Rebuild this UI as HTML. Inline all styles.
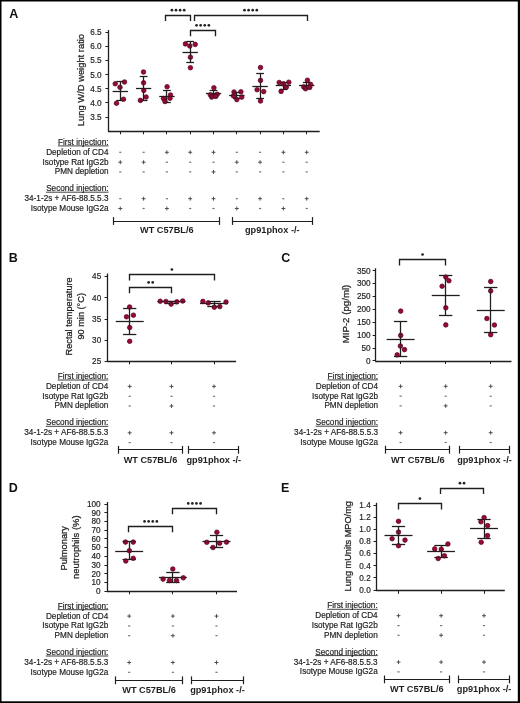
<!DOCTYPE html>
<html><head><meta charset="utf-8"><title>Figure</title>
<style>
html,body{margin:0;padding:0;background:#fff;}
body{width:520px;height:703px;overflow:hidden;}
svg{display:block;font-family:"Liberation Sans", sans-serif;filter:blur(0.35px);}
</style></head><body>
<svg width="520" height="703" viewBox="0 0 520 703">
<rect width="520" height="703" fill="#fff"/>
<text x="9.2" y="17.7" font-size="12.5" text-anchor="start" font-weight="bold" fill="#111">A</text>
<line x1="108.5" y1="30.0" x2="108.5" y2="131.3" stroke="#1e1e1e" stroke-width="1.3"/>
<line x1="105.4" y1="32.5" x2="108.6" y2="32.5" stroke="#1e1e1e" stroke-width="1.0"/>
<text x="101.6" y="35.2" font-size="8.2" text-anchor="end" fill="#1e1e1e" stroke="#1e1e1e" stroke-width="0.18">6.5</text>
<line x1="105.4" y1="46.5" x2="108.6" y2="46.5" stroke="#1e1e1e" stroke-width="1.0"/>
<text x="101.6" y="49.3" font-size="8.2" text-anchor="end" fill="#1e1e1e" stroke="#1e1e1e" stroke-width="0.18">6.0</text>
<line x1="105.4" y1="60.5" x2="108.6" y2="60.5" stroke="#1e1e1e" stroke-width="1.0"/>
<text x="101.6" y="63.4" font-size="8.2" text-anchor="end" fill="#1e1e1e" stroke="#1e1e1e" stroke-width="0.18">5.5</text>
<line x1="105.4" y1="74.5" x2="108.6" y2="74.5" stroke="#1e1e1e" stroke-width="1.0"/>
<text x="101.6" y="77.5" font-size="8.2" text-anchor="end" fill="#1e1e1e" stroke="#1e1e1e" stroke-width="0.18">5.0</text>
<line x1="105.4" y1="88.5" x2="108.6" y2="88.5" stroke="#1e1e1e" stroke-width="1.0"/>
<text x="101.6" y="91.6" font-size="8.2" text-anchor="end" fill="#1e1e1e" stroke="#1e1e1e" stroke-width="0.18">4.5</text>
<line x1="105.4" y1="102.5" x2="108.6" y2="102.5" stroke="#1e1e1e" stroke-width="1.0"/>
<text x="101.6" y="105.7" font-size="8.2" text-anchor="end" fill="#1e1e1e" stroke="#1e1e1e" stroke-width="0.18">4.0</text>
<line x1="105.4" y1="117.5" x2="108.6" y2="117.5" stroke="#1e1e1e" stroke-width="1.0"/>
<text x="101.6" y="119.8" font-size="8.2" text-anchor="end" fill="#1e1e1e" stroke="#1e1e1e" stroke-width="0.18">3.5</text>
<line x1="107.95" y1="131.5" x2="319.7" y2="131.5" stroke="#1e1e1e" stroke-width="1.3"/>
<line x1="120.5" y1="131.3" x2="120.5" y2="134.3" stroke="#1e1e1e" stroke-width="1.0"/>
<line x1="143.5" y1="131.3" x2="143.5" y2="134.3" stroke="#1e1e1e" stroke-width="1.0"/>
<line x1="166.5" y1="131.3" x2="166.5" y2="134.3" stroke="#1e1e1e" stroke-width="1.0"/>
<line x1="190.5" y1="131.3" x2="190.5" y2="134.3" stroke="#1e1e1e" stroke-width="1.0"/>
<line x1="213.5" y1="131.3" x2="213.5" y2="134.3" stroke="#1e1e1e" stroke-width="1.0"/>
<line x1="236.5" y1="131.3" x2="236.5" y2="134.3" stroke="#1e1e1e" stroke-width="1.0"/>
<line x1="260.5" y1="131.3" x2="260.5" y2="134.3" stroke="#1e1e1e" stroke-width="1.0"/>
<line x1="283.5" y1="131.3" x2="283.5" y2="134.3" stroke="#1e1e1e" stroke-width="1.0"/>
<line x1="306.5" y1="131.3" x2="306.5" y2="134.3" stroke="#1e1e1e" stroke-width="1.0"/>
<text transform="translate(83.6,80.05) rotate(-90)" font-size="9.4" text-anchor="middle" fill="#1e1e1e" stroke="#1e1e1e" stroke-width="0.25">Lung W/D weight ratio</text>
<path d="M165.5 21.1V15.5H190.5V21.1" fill="none" stroke="#1e1e1e" stroke-width="1.35"/>
<circle cx="171.90" cy="10.2" r="1.35" fill="#222"/>
<circle cx="176.00" cy="10.2" r="1.35" fill="#222"/>
<circle cx="180.10" cy="10.2" r="1.35" fill="#222"/>
<circle cx="184.20" cy="10.2" r="1.35" fill="#222"/>
<path d="M194.5 21.1V15.5H307.5V21.1" fill="none" stroke="#1e1e1e" stroke-width="1.35"/>
<circle cx="244.50" cy="10.2" r="1.35" fill="#222"/>
<circle cx="248.60" cy="10.2" r="1.35" fill="#222"/>
<circle cx="252.70" cy="10.2" r="1.35" fill="#222"/>
<circle cx="256.80" cy="10.2" r="1.35" fill="#222"/>
<path d="M190.5 36.2V30.5H215.5V36.2" fill="none" stroke="#1e1e1e" stroke-width="1.35"/>
<circle cx="196.55" cy="25.3" r="1.35" fill="#222"/>
<circle cx="200.65" cy="25.3" r="1.35" fill="#222"/>
<circle cx="204.75" cy="25.3" r="1.35" fill="#222"/>
<circle cx="208.85" cy="25.3" r="1.35" fill="#222"/>
<line x1="120.5" y1="81.5" x2="120.5" y2="100.5" stroke="#1e1e1e" stroke-width="1.2"/>
<line x1="116.5" y1="81.5" x2="124.1" y2="81.5" stroke="#1e1e1e" stroke-width="1.2"/>
<line x1="116.5" y1="100.5" x2="124.1" y2="100.5" stroke="#1e1e1e" stroke-width="1.2"/>
<line x1="112.7" y1="91.5" x2="127.9" y2="91.5" stroke="#1e1e1e" stroke-width="1.2"/>
<circle cx="115.25" cy="83.75" r="2.3" fill="#980a34" stroke="#55001a" stroke-width="0.7"/>
<circle cx="124.5" cy="82" r="2.3" fill="#980a34" stroke="#55001a" stroke-width="0.7"/>
<circle cx="120" cy="87.25" r="2.3" fill="#980a34" stroke="#55001a" stroke-width="0.7"/>
<circle cx="123.5" cy="99.25" r="2.3" fill="#980a34" stroke="#55001a" stroke-width="0.7"/>
<circle cx="116.5" cy="103.25" r="2.3" fill="#980a34" stroke="#55001a" stroke-width="0.7"/>
<g opacity="0.45">
<line x1="120.5" y1="81.5" x2="120.5" y2="100.5" stroke="#1e1e1e" stroke-width="1.2"/>
<line x1="116.5" y1="81.5" x2="124.1" y2="81.5" stroke="#1e1e1e" stroke-width="1.2"/>
<line x1="116.5" y1="100.5" x2="124.1" y2="100.5" stroke="#1e1e1e" stroke-width="1.2"/>
<line x1="112.7" y1="91.5" x2="127.9" y2="91.5" stroke="#1e1e1e" stroke-width="1.2"/>
</g>
<line x1="143.5" y1="76.8" x2="143.5" y2="100.2" stroke="#1e1e1e" stroke-width="1.2"/>
<line x1="139.8" y1="76.5" x2="147.4" y2="76.5" stroke="#1e1e1e" stroke-width="1.2"/>
<line x1="139.8" y1="100.5" x2="147.4" y2="100.5" stroke="#1e1e1e" stroke-width="1.2"/>
<line x1="136.0" y1="88.5" x2="151.2" y2="88.5" stroke="#1e1e1e" stroke-width="1.2"/>
<circle cx="143.5" cy="72" r="2.3" fill="#980a34" stroke="#55001a" stroke-width="0.7"/>
<circle cx="143.6" cy="82.8" r="2.3" fill="#980a34" stroke="#55001a" stroke-width="0.7"/>
<circle cx="143.8" cy="90.5" r="2.3" fill="#980a34" stroke="#55001a" stroke-width="0.7"/>
<circle cx="146.1" cy="97" r="2.3" fill="#980a34" stroke="#55001a" stroke-width="0.7"/>
<circle cx="140.4" cy="100.4" r="2.3" fill="#980a34" stroke="#55001a" stroke-width="0.7"/>
<g opacity="0.45">
<line x1="143.5" y1="76.8" x2="143.5" y2="100.2" stroke="#1e1e1e" stroke-width="1.2"/>
<line x1="139.8" y1="76.5" x2="147.4" y2="76.5" stroke="#1e1e1e" stroke-width="1.2"/>
<line x1="139.8" y1="100.5" x2="147.4" y2="100.5" stroke="#1e1e1e" stroke-width="1.2"/>
<line x1="136.0" y1="88.5" x2="151.2" y2="88.5" stroke="#1e1e1e" stroke-width="1.2"/>
</g>
<line x1="166.5" y1="90.25" x2="166.5" y2="102" stroke="#1e1e1e" stroke-width="1.2"/>
<line x1="163.1" y1="90.5" x2="170.7" y2="90.5" stroke="#1e1e1e" stroke-width="1.2"/>
<line x1="163.1" y1="102.5" x2="170.7" y2="102.5" stroke="#1e1e1e" stroke-width="1.2"/>
<line x1="159.3" y1="96.5" x2="174.5" y2="96.5" stroke="#1e1e1e" stroke-width="1.2"/>
<circle cx="167.1" cy="86.75" r="2.3" fill="#980a34" stroke="#55001a" stroke-width="0.7"/>
<circle cx="163.5" cy="98.5" r="2.3" fill="#980a34" stroke="#55001a" stroke-width="0.7"/>
<circle cx="170.5" cy="95" r="2.3" fill="#980a34" stroke="#55001a" stroke-width="0.7"/>
<circle cx="165" cy="101.5" r="2.3" fill="#980a34" stroke="#55001a" stroke-width="0.7"/>
<circle cx="170" cy="98.3" r="2.3" fill="#980a34" stroke="#55001a" stroke-width="0.7"/>
<g opacity="0.45">
<line x1="166.5" y1="90.25" x2="166.5" y2="102" stroke="#1e1e1e" stroke-width="1.2"/>
<line x1="163.1" y1="90.5" x2="170.7" y2="90.5" stroke="#1e1e1e" stroke-width="1.2"/>
<line x1="163.1" y1="102.5" x2="170.7" y2="102.5" stroke="#1e1e1e" stroke-width="1.2"/>
<line x1="159.3" y1="96.5" x2="174.5" y2="96.5" stroke="#1e1e1e" stroke-width="1.2"/>
</g>
<line x1="190.5" y1="41.1" x2="190.5" y2="62.4" stroke="#1e1e1e" stroke-width="1.2"/>
<line x1="186.4" y1="41.5" x2="194.0" y2="41.5" stroke="#1e1e1e" stroke-width="1.2"/>
<line x1="186.4" y1="62.5" x2="194.0" y2="62.5" stroke="#1e1e1e" stroke-width="1.2"/>
<line x1="182.6" y1="52.5" x2="197.8" y2="52.5" stroke="#1e1e1e" stroke-width="1.2"/>
<circle cx="185.4" cy="43.9" r="2.3" fill="#980a34" stroke="#55001a" stroke-width="0.7"/>
<circle cx="189.8" cy="46" r="2.3" fill="#980a34" stroke="#55001a" stroke-width="0.7"/>
<circle cx="195.2" cy="44.4" r="2.3" fill="#980a34" stroke="#55001a" stroke-width="0.7"/>
<circle cx="190.4" cy="57.2" r="2.3" fill="#980a34" stroke="#55001a" stroke-width="0.7"/>
<circle cx="190.4" cy="67.7" r="2.3" fill="#980a34" stroke="#55001a" stroke-width="0.7"/>
<g opacity="0.45">
<line x1="190.5" y1="41.1" x2="190.5" y2="62.4" stroke="#1e1e1e" stroke-width="1.2"/>
<line x1="186.4" y1="41.5" x2="194.0" y2="41.5" stroke="#1e1e1e" stroke-width="1.2"/>
<line x1="186.4" y1="62.5" x2="194.0" y2="62.5" stroke="#1e1e1e" stroke-width="1.2"/>
<line x1="182.6" y1="52.5" x2="197.8" y2="52.5" stroke="#1e1e1e" stroke-width="1.2"/>
</g>
<line x1="213.5" y1="90.4" x2="213.5" y2="97.5" stroke="#1e1e1e" stroke-width="1.2"/>
<line x1="209.7" y1="90.5" x2="217.3" y2="90.5" stroke="#1e1e1e" stroke-width="1.2"/>
<line x1="209.7" y1="97.5" x2="217.3" y2="97.5" stroke="#1e1e1e" stroke-width="1.2"/>
<line x1="205.9" y1="93.5" x2="221.1" y2="93.5" stroke="#1e1e1e" stroke-width="1.2"/>
<circle cx="213.9" cy="87.8" r="2.3" fill="#980a34" stroke="#55001a" stroke-width="0.7"/>
<circle cx="210.3" cy="94.8" r="2.3" fill="#980a34" stroke="#55001a" stroke-width="0.7"/>
<circle cx="217.2" cy="94.3" r="2.3" fill="#980a34" stroke="#55001a" stroke-width="0.7"/>
<circle cx="211.7" cy="97.1" r="2.3" fill="#980a34" stroke="#55001a" stroke-width="0.7"/>
<circle cx="215.8" cy="96.4" r="2.3" fill="#980a34" stroke="#55001a" stroke-width="0.7"/>
<g opacity="0.45">
<line x1="213.5" y1="90.4" x2="213.5" y2="97.5" stroke="#1e1e1e" stroke-width="1.2"/>
<line x1="209.7" y1="90.5" x2="217.3" y2="90.5" stroke="#1e1e1e" stroke-width="1.2"/>
<line x1="209.7" y1="97.5" x2="217.3" y2="97.5" stroke="#1e1e1e" stroke-width="1.2"/>
<line x1="205.9" y1="93.5" x2="221.1" y2="93.5" stroke="#1e1e1e" stroke-width="1.2"/>
</g>
<line x1="236.5" y1="92.3" x2="236.5" y2="98.6" stroke="#1e1e1e" stroke-width="1.2"/>
<line x1="233.0" y1="92.5" x2="240.6" y2="92.5" stroke="#1e1e1e" stroke-width="1.2"/>
<line x1="233.0" y1="98.5" x2="240.6" y2="98.5" stroke="#1e1e1e" stroke-width="1.2"/>
<line x1="229.2" y1="95.5" x2="244.4" y2="95.5" stroke="#1e1e1e" stroke-width="1.2"/>
<circle cx="234" cy="92" r="2.3" fill="#980a34" stroke="#55001a" stroke-width="0.7"/>
<circle cx="240.9" cy="91.8" r="2.3" fill="#980a34" stroke="#55001a" stroke-width="0.7"/>
<circle cx="233.5" cy="95.9" r="2.3" fill="#980a34" stroke="#55001a" stroke-width="0.7"/>
<circle cx="241.8" cy="97.1" r="2.3" fill="#980a34" stroke="#55001a" stroke-width="0.7"/>
<circle cx="236.8" cy="99.6" r="2.3" fill="#980a34" stroke="#55001a" stroke-width="0.7"/>
<g opacity="0.45">
<line x1="236.5" y1="92.3" x2="236.5" y2="98.6" stroke="#1e1e1e" stroke-width="1.2"/>
<line x1="233.0" y1="92.5" x2="240.6" y2="92.5" stroke="#1e1e1e" stroke-width="1.2"/>
<line x1="233.0" y1="98.5" x2="240.6" y2="98.5" stroke="#1e1e1e" stroke-width="1.2"/>
<line x1="229.2" y1="95.5" x2="244.4" y2="95.5" stroke="#1e1e1e" stroke-width="1.2"/>
</g>
<line x1="260.5" y1="73.3" x2="260.5" y2="98.2" stroke="#1e1e1e" stroke-width="1.2"/>
<line x1="256.3" y1="73.5" x2="263.9" y2="73.5" stroke="#1e1e1e" stroke-width="1.2"/>
<line x1="256.3" y1="98.5" x2="263.9" y2="98.5" stroke="#1e1e1e" stroke-width="1.2"/>
<line x1="252.5" y1="86.5" x2="267.7" y2="86.5" stroke="#1e1e1e" stroke-width="1.2"/>
<circle cx="260.5" cy="67.5" r="2.3" fill="#980a34" stroke="#55001a" stroke-width="0.7"/>
<circle cx="260.5" cy="80.4" r="2.3" fill="#980a34" stroke="#55001a" stroke-width="0.7"/>
<circle cx="257.1" cy="89.7" r="2.3" fill="#980a34" stroke="#55001a" stroke-width="0.7"/>
<circle cx="263.7" cy="91.6" r="2.3" fill="#980a34" stroke="#55001a" stroke-width="0.7"/>
<circle cx="260.5" cy="101" r="2.3" fill="#980a34" stroke="#55001a" stroke-width="0.7"/>
<g opacity="0.45">
<line x1="260.5" y1="73.3" x2="260.5" y2="98.2" stroke="#1e1e1e" stroke-width="1.2"/>
<line x1="256.3" y1="73.5" x2="263.9" y2="73.5" stroke="#1e1e1e" stroke-width="1.2"/>
<line x1="256.3" y1="98.5" x2="263.9" y2="98.5" stroke="#1e1e1e" stroke-width="1.2"/>
<line x1="252.5" y1="86.5" x2="267.7" y2="86.5" stroke="#1e1e1e" stroke-width="1.2"/>
</g>
<line x1="283.5" y1="82.3" x2="283.5" y2="89.1" stroke="#1e1e1e" stroke-width="1.2"/>
<line x1="279.6" y1="82.5" x2="287.2" y2="82.5" stroke="#1e1e1e" stroke-width="1.2"/>
<line x1="279.6" y1="89.5" x2="287.2" y2="89.5" stroke="#1e1e1e" stroke-width="1.2"/>
<line x1="275.8" y1="85.5" x2="291.0" y2="85.5" stroke="#1e1e1e" stroke-width="1.2"/>
<circle cx="279.2" cy="82.5" r="2.3" fill="#980a34" stroke="#55001a" stroke-width="0.7"/>
<circle cx="283.5" cy="83.8" r="2.3" fill="#980a34" stroke="#55001a" stroke-width="0.7"/>
<circle cx="288.8" cy="82.2" r="2.3" fill="#980a34" stroke="#55001a" stroke-width="0.7"/>
<circle cx="286.3" cy="87.2" r="2.3" fill="#980a34" stroke="#55001a" stroke-width="0.7"/>
<circle cx="281.1" cy="91.4" r="2.3" fill="#980a34" stroke="#55001a" stroke-width="0.7"/>
<g opacity="0.45">
<line x1="283.5" y1="82.3" x2="283.5" y2="89.1" stroke="#1e1e1e" stroke-width="1.2"/>
<line x1="279.6" y1="82.5" x2="287.2" y2="82.5" stroke="#1e1e1e" stroke-width="1.2"/>
<line x1="279.6" y1="89.5" x2="287.2" y2="89.5" stroke="#1e1e1e" stroke-width="1.2"/>
<line x1="275.8" y1="85.5" x2="291.0" y2="85.5" stroke="#1e1e1e" stroke-width="1.2"/>
</g>
<line x1="306.5" y1="82.3" x2="306.5" y2="88.7" stroke="#1e1e1e" stroke-width="1.2"/>
<line x1="302.9" y1="82.5" x2="310.5" y2="82.5" stroke="#1e1e1e" stroke-width="1.2"/>
<line x1="302.9" y1="88.5" x2="310.5" y2="88.5" stroke="#1e1e1e" stroke-width="1.2"/>
<line x1="299.1" y1="85.5" x2="314.3" y2="85.5" stroke="#1e1e1e" stroke-width="1.2"/>
<circle cx="307.4" cy="80.2" r="2.3" fill="#980a34" stroke="#55001a" stroke-width="0.7"/>
<circle cx="310.6" cy="84.4" r="2.3" fill="#980a34" stroke="#55001a" stroke-width="0.7"/>
<circle cx="303.7" cy="86.9" r="2.3" fill="#980a34" stroke="#55001a" stroke-width="0.7"/>
<circle cx="305.5" cy="88.8" r="2.3" fill="#980a34" stroke="#55001a" stroke-width="0.7"/>
<circle cx="309.7" cy="87.4" r="2.3" fill="#980a34" stroke="#55001a" stroke-width="0.7"/>
<g opacity="0.45">
<line x1="306.5" y1="82.3" x2="306.5" y2="88.7" stroke="#1e1e1e" stroke-width="1.2"/>
<line x1="302.9" y1="82.5" x2="310.5" y2="82.5" stroke="#1e1e1e" stroke-width="1.2"/>
<line x1="302.9" y1="88.5" x2="310.5" y2="88.5" stroke="#1e1e1e" stroke-width="1.2"/>
<line x1="299.1" y1="85.5" x2="314.3" y2="85.5" stroke="#1e1e1e" stroke-width="1.2"/>
</g>
<text x="108.5" y="144.9" font-size="8.2" text-anchor="end" fill="#1e1e1e" stroke="#1e1e1e" stroke-width="0.18">First injection:</text>
<line x1="57.92" y1="145.90" x2="108.50" y2="145.90" stroke="#1e1e1e" stroke-width="0.85"/>
<text x="108.5" y="191.2" font-size="8.2" text-anchor="end" fill="#1e1e1e" stroke="#1e1e1e" stroke-width="0.18">Second injection:</text>
<line x1="46.05" y1="192.20" x2="108.50" y2="192.20" stroke="#1e1e1e" stroke-width="0.85"/>
<text x="108.5" y="154.7" font-size="8.2" text-anchor="end" fill="#1e1e1e" stroke="#1e1e1e" stroke-width="0.18">Depletion of CD4</text>
<path d="M119.20 152.30H121.40" stroke="#747474" stroke-width="1.2" fill="none"/>
<path d="M142.50 152.30H144.70" stroke="#747474" stroke-width="1.2" fill="none"/>
<path d="M164.95 152.30H168.85M166.90 150.35V154.25" stroke="#474747" stroke-width="0.95" fill="none"/>
<path d="M188.25 152.30H192.15M190.20 150.35V154.25" stroke="#474747" stroke-width="0.95" fill="none"/>
<path d="M211.55 152.30H215.45M213.50 150.35V154.25" stroke="#474747" stroke-width="0.95" fill="none"/>
<path d="M235.70 152.30H237.90" stroke="#747474" stroke-width="1.2" fill="none"/>
<path d="M259.00 152.30H261.20" stroke="#747474" stroke-width="1.2" fill="none"/>
<path d="M281.45 152.30H285.35M283.40 150.35V154.25" stroke="#474747" stroke-width="0.95" fill="none"/>
<path d="M304.75 152.30H308.65M306.70 150.35V154.25" stroke="#474747" stroke-width="0.95" fill="none"/>
<text x="108.5" y="164.6" font-size="8.2" text-anchor="end" fill="#1e1e1e" stroke="#1e1e1e" stroke-width="0.18">Isotype Rat IgG2b</text>
<path d="M118.35 162.20H122.25M120.30 160.25V164.15" stroke="#474747" stroke-width="0.95" fill="none"/>
<path d="M141.65 162.20H145.55M143.60 160.25V164.15" stroke="#474747" stroke-width="0.95" fill="none"/>
<path d="M165.80 162.20H168.00" stroke="#747474" stroke-width="1.2" fill="none"/>
<path d="M189.10 162.20H191.30" stroke="#747474" stroke-width="1.2" fill="none"/>
<path d="M212.40 162.20H214.60" stroke="#747474" stroke-width="1.2" fill="none"/>
<path d="M234.85 162.20H238.75M236.80 160.25V164.15" stroke="#474747" stroke-width="0.95" fill="none"/>
<path d="M258.15 162.20H262.05M260.10 160.25V164.15" stroke="#474747" stroke-width="0.95" fill="none"/>
<path d="M282.30 162.20H284.50" stroke="#747474" stroke-width="1.2" fill="none"/>
<path d="M305.60 162.20H307.80" stroke="#747474" stroke-width="1.2" fill="none"/>
<text x="108.5" y="174.3" font-size="8.2" text-anchor="end" fill="#1e1e1e" stroke="#1e1e1e" stroke-width="0.18">PMN depletion</text>
<path d="M119.20 171.90H121.40" stroke="#747474" stroke-width="1.2" fill="none"/>
<path d="M142.50 171.90H144.70" stroke="#747474" stroke-width="1.2" fill="none"/>
<path d="M165.80 171.90H168.00" stroke="#747474" stroke-width="1.2" fill="none"/>
<path d="M189.10 171.90H191.30" stroke="#747474" stroke-width="1.2" fill="none"/>
<path d="M211.55 171.90H215.45M213.50 169.95V173.85" stroke="#474747" stroke-width="0.95" fill="none"/>
<path d="M235.70 171.90H237.90" stroke="#747474" stroke-width="1.2" fill="none"/>
<path d="M259.00 171.90H261.20" stroke="#747474" stroke-width="1.2" fill="none"/>
<path d="M282.30 171.90H284.50" stroke="#747474" stroke-width="1.2" fill="none"/>
<path d="M305.60 171.90H307.80" stroke="#747474" stroke-width="1.2" fill="none"/>
<text x="108.5" y="201.1" font-size="8.2" text-anchor="end" fill="#1e1e1e" stroke="#1e1e1e" stroke-width="0.18">34-1-2s + AF6-88.5.5.3</text>
<path d="M119.20 198.70H121.40" stroke="#747474" stroke-width="1.2" fill="none"/>
<path d="M141.65 198.70H145.55M143.60 196.75V200.65" stroke="#474747" stroke-width="0.95" fill="none"/>
<path d="M165.80 198.70H168.00" stroke="#747474" stroke-width="1.2" fill="none"/>
<path d="M188.25 198.70H192.15M190.20 196.75V200.65" stroke="#474747" stroke-width="0.95" fill="none"/>
<path d="M211.55 198.70H215.45M213.50 196.75V200.65" stroke="#474747" stroke-width="0.95" fill="none"/>
<path d="M235.70 198.70H237.90" stroke="#747474" stroke-width="1.2" fill="none"/>
<path d="M258.15 198.70H262.05M260.10 196.75V200.65" stroke="#474747" stroke-width="0.95" fill="none"/>
<path d="M282.30 198.70H284.50" stroke="#747474" stroke-width="1.2" fill="none"/>
<path d="M304.75 198.70H308.65M306.70 196.75V200.65" stroke="#474747" stroke-width="0.95" fill="none"/>
<text x="108.5" y="210.9" font-size="8.2" text-anchor="end" fill="#1e1e1e" stroke="#1e1e1e" stroke-width="0.18">Isotype Mouse IgG2a</text>
<path d="M118.35 208.50H122.25M120.30 206.55V210.45" stroke="#474747" stroke-width="0.95" fill="none"/>
<path d="M142.50 208.50H144.70" stroke="#747474" stroke-width="1.2" fill="none"/>
<path d="M164.95 208.50H168.85M166.90 206.55V210.45" stroke="#474747" stroke-width="0.95" fill="none"/>
<path d="M189.10 208.50H191.30" stroke="#747474" stroke-width="1.2" fill="none"/>
<path d="M212.40 208.50H214.60" stroke="#747474" stroke-width="1.2" fill="none"/>
<path d="M234.85 208.50H238.75M236.80 206.55V210.45" stroke="#474747" stroke-width="0.95" fill="none"/>
<path d="M259.00 208.50H261.20" stroke="#747474" stroke-width="1.2" fill="none"/>
<path d="M281.45 208.50H285.35M283.40 206.55V210.45" stroke="#474747" stroke-width="0.95" fill="none"/>
<path d="M305.60 208.50H307.80" stroke="#747474" stroke-width="1.2" fill="none"/>
<line x1="113.8" y1="221.5" x2="219.8" y2="221.5" stroke="#1e1e1e" stroke-width="1.2"/>
<line x1="113.5" y1="217.1" x2="113.5" y2="224.9" stroke="#1e1e1e" stroke-width="1.2"/>
<line x1="219.5" y1="217.1" x2="219.5" y2="224.9" stroke="#1e1e1e" stroke-width="1.2"/>
<text x="166.8" y="233.0" font-size="9.2" text-anchor="middle" font-weight="bold" fill="#1e1e1e">WT C57BL/6</text>
<line x1="232.1" y1="221.5" x2="312.4" y2="221.5" stroke="#1e1e1e" stroke-width="1.2"/>
<line x1="232.5" y1="217.1" x2="232.5" y2="224.9" stroke="#1e1e1e" stroke-width="1.2"/>
<line x1="312.5" y1="217.1" x2="312.5" y2="224.9" stroke="#1e1e1e" stroke-width="1.2"/>
<text x="272.25" y="233.0" font-size="9.2" text-anchor="middle" font-weight="bold" fill="#1e1e1e">gp91phox -/-</text>
<text x="8.8" y="262.4" font-size="12.5" text-anchor="start" font-weight="bold" fill="#111">B</text>
<line x1="107.5" y1="273.5" x2="107.5" y2="361.4" stroke="#1e1e1e" stroke-width="1.3"/>
<line x1="104.6" y1="276.5" x2="107.8" y2="276.5" stroke="#1e1e1e" stroke-width="1.0"/>
<text x="101.2" y="279.4" font-size="8.2" text-anchor="end" fill="#1e1e1e" stroke="#1e1e1e" stroke-width="0.18">45</text>
<line x1="104.6" y1="297.5" x2="107.8" y2="297.5" stroke="#1e1e1e" stroke-width="1.0"/>
<text x="101.2" y="300.6" font-size="8.2" text-anchor="end" fill="#1e1e1e" stroke="#1e1e1e" stroke-width="0.18">40</text>
<line x1="104.6" y1="319.5" x2="107.8" y2="319.5" stroke="#1e1e1e" stroke-width="1.0"/>
<text x="101.2" y="321.8" font-size="8.2" text-anchor="end" fill="#1e1e1e" stroke="#1e1e1e" stroke-width="0.18">35</text>
<line x1="104.6" y1="340.5" x2="107.8" y2="340.5" stroke="#1e1e1e" stroke-width="1.0"/>
<text x="101.2" y="343.0" font-size="8.2" text-anchor="end" fill="#1e1e1e" stroke="#1e1e1e" stroke-width="0.18">30</text>
<line x1="104.6" y1="361.5" x2="107.8" y2="361.5" stroke="#1e1e1e" stroke-width="1.0"/>
<text x="101.2" y="364.2" font-size="8.2" text-anchor="end" fill="#1e1e1e" stroke="#1e1e1e" stroke-width="0.18">25</text>
<line x1="107.15" y1="361.5" x2="236.1" y2="361.5" stroke="#1e1e1e" stroke-width="1.3"/>
<line x1="129.5" y1="361.4" x2="129.5" y2="364.4" stroke="#1e1e1e" stroke-width="1.0"/>
<line x1="171.5" y1="361.4" x2="171.5" y2="364.4" stroke="#1e1e1e" stroke-width="1.0"/>
<line x1="214.5" y1="361.4" x2="214.5" y2="364.4" stroke="#1e1e1e" stroke-width="1.0"/>
<text transform="translate(71.6,316.4) rotate(-90)" font-size="9.2" text-anchor="middle" fill="#1e1e1e" stroke="#1e1e1e" stroke-width="0.25">Rectal temperature</text>
<text transform="translate(83.8,316.3) rotate(-90)" font-size="9.2" text-anchor="middle" fill="#1e1e1e" stroke="#1e1e1e" stroke-width="0.25">90 min (°C)</text>
<path d="M129.5 280.4V274.5H214.5V280.4" fill="none" stroke="#1e1e1e" stroke-width="1.35"/>
<circle cx="171.90" cy="269.5" r="1.35" fill="#222"/>
<path d="M129.5 293.3V287.5H171.5V293.3" fill="none" stroke="#1e1e1e" stroke-width="1.35"/>
<circle cx="148.60" cy="282.4" r="1.35" fill="#222"/>
<circle cx="152.70" cy="282.4" r="1.35" fill="#222"/>
<line x1="129.5" y1="308" x2="129.5" y2="334.5" stroke="#1e1e1e" stroke-width="1.2"/>
<line x1="123.1" y1="308.5" x2="136.3" y2="308.5" stroke="#1e1e1e" stroke-width="1.2"/>
<line x1="123.1" y1="334.5" x2="136.3" y2="334.5" stroke="#1e1e1e" stroke-width="1.2"/>
<line x1="115.8" y1="321.5" x2="143.6" y2="321.5" stroke="#1e1e1e" stroke-width="1.2"/>
<circle cx="129.6" cy="307" r="2.3" fill="#980a34" stroke="#55001a" stroke-width="0.7"/>
<circle cx="126.5" cy="316.8" r="2.3" fill="#980a34" stroke="#55001a" stroke-width="0.7"/>
<circle cx="133.4" cy="315.2" r="2.3" fill="#980a34" stroke="#55001a" stroke-width="0.7"/>
<circle cx="129.7" cy="327.5" r="2.3" fill="#980a34" stroke="#55001a" stroke-width="0.7"/>
<circle cx="129.7" cy="341.3" r="2.3" fill="#980a34" stroke="#55001a" stroke-width="0.7"/>
<g opacity="0.45">
<line x1="129.5" y1="308" x2="129.5" y2="334.5" stroke="#1e1e1e" stroke-width="1.2"/>
<line x1="123.1" y1="308.5" x2="136.3" y2="308.5" stroke="#1e1e1e" stroke-width="1.2"/>
<line x1="123.1" y1="334.5" x2="136.3" y2="334.5" stroke="#1e1e1e" stroke-width="1.2"/>
<line x1="115.8" y1="321.5" x2="143.6" y2="321.5" stroke="#1e1e1e" stroke-width="1.2"/>
</g>
<line x1="171.5" y1="301.0" x2="171.5" y2="303.0" stroke="#1e1e1e" stroke-width="1.2"/>
<line x1="164.9" y1="301.5" x2="178.1" y2="301.5" stroke="#1e1e1e" stroke-width="1.2"/>
<line x1="164.9" y1="303.5" x2="178.1" y2="303.5" stroke="#1e1e1e" stroke-width="1.2"/>
<line x1="157.6" y1="301.5" x2="185.4" y2="301.5" stroke="#1e1e1e" stroke-width="1.2"/>
<circle cx="160.2" cy="301.25" r="2.3" fill="#980a34" stroke="#55001a" stroke-width="0.7"/>
<circle cx="165.9" cy="301.5" r="2.3" fill="#980a34" stroke="#55001a" stroke-width="0.7"/>
<circle cx="171.1" cy="304.1" r="2.3" fill="#980a34" stroke="#55001a" stroke-width="0.7"/>
<circle cx="176.9" cy="301.8" r="2.3" fill="#980a34" stroke="#55001a" stroke-width="0.7"/>
<circle cx="182.7" cy="301" r="2.3" fill="#980a34" stroke="#55001a" stroke-width="0.7"/>
<g opacity="0.45">
<line x1="171.5" y1="301.0" x2="171.5" y2="303.0" stroke="#1e1e1e" stroke-width="1.2"/>
<line x1="164.9" y1="301.5" x2="178.1" y2="301.5" stroke="#1e1e1e" stroke-width="1.2"/>
<line x1="164.9" y1="303.5" x2="178.1" y2="303.5" stroke="#1e1e1e" stroke-width="1.2"/>
<line x1="157.6" y1="301.5" x2="185.4" y2="301.5" stroke="#1e1e1e" stroke-width="1.2"/>
</g>
<line x1="214.5" y1="301.4" x2="214.5" y2="306.3" stroke="#1e1e1e" stroke-width="1.2"/>
<line x1="207.4" y1="301.5" x2="220.6" y2="301.5" stroke="#1e1e1e" stroke-width="1.2"/>
<line x1="207.4" y1="306.5" x2="220.6" y2="306.5" stroke="#1e1e1e" stroke-width="1.2"/>
<line x1="200.1" y1="303.5" x2="227.9" y2="303.5" stroke="#1e1e1e" stroke-width="1.2"/>
<circle cx="202.9" cy="301.4" r="2.3" fill="#980a34" stroke="#55001a" stroke-width="0.7"/>
<circle cx="208.2" cy="302.9" r="2.3" fill="#980a34" stroke="#55001a" stroke-width="0.7"/>
<circle cx="214.3" cy="307.2" r="2.3" fill="#980a34" stroke="#55001a" stroke-width="0.7"/>
<circle cx="219.8" cy="306.6" r="2.3" fill="#980a34" stroke="#55001a" stroke-width="0.7"/>
<circle cx="226" cy="302" r="2.3" fill="#980a34" stroke="#55001a" stroke-width="0.7"/>
<g opacity="0.45">
<line x1="214.5" y1="301.4" x2="214.5" y2="306.3" stroke="#1e1e1e" stroke-width="1.2"/>
<line x1="207.4" y1="301.5" x2="220.6" y2="301.5" stroke="#1e1e1e" stroke-width="1.2"/>
<line x1="207.4" y1="306.5" x2="220.6" y2="306.5" stroke="#1e1e1e" stroke-width="1.2"/>
<line x1="200.1" y1="303.5" x2="227.9" y2="303.5" stroke="#1e1e1e" stroke-width="1.2"/>
</g>
<text x="108.3" y="379.0" font-size="8.2" text-anchor="end" fill="#1e1e1e" stroke="#1e1e1e" stroke-width="0.18">First injection:</text>
<line x1="57.72" y1="380.00" x2="108.30" y2="380.00" stroke="#1e1e1e" stroke-width="0.85"/>
<text x="108.3" y="425.3" font-size="8.2" text-anchor="end" fill="#1e1e1e" stroke="#1e1e1e" stroke-width="0.18">Second injection:</text>
<line x1="45.85" y1="426.30" x2="108.30" y2="426.30" stroke="#1e1e1e" stroke-width="0.85"/>
<text x="108.3" y="388.8" font-size="8.2" text-anchor="end" fill="#1e1e1e" stroke="#1e1e1e" stroke-width="0.18">Depletion of CD4</text>
<path d="M127.75 386.40H131.65M129.70 384.45V388.35" stroke="#474747" stroke-width="0.95" fill="none"/>
<path d="M169.55 386.40H173.45M171.50 384.45V388.35" stroke="#474747" stroke-width="0.95" fill="none"/>
<path d="M212.05 386.40H215.95M214.00 384.45V388.35" stroke="#474747" stroke-width="0.95" fill="none"/>
<text x="108.3" y="398.7" font-size="8.2" text-anchor="end" fill="#1e1e1e" stroke="#1e1e1e" stroke-width="0.18">Isotype Rat IgG2b</text>
<path d="M128.60 396.30H130.80" stroke="#747474" stroke-width="1.2" fill="none"/>
<path d="M170.40 396.30H172.60" stroke="#747474" stroke-width="1.2" fill="none"/>
<path d="M212.90 396.30H215.10" stroke="#747474" stroke-width="1.2" fill="none"/>
<text x="108.3" y="408.4" font-size="8.2" text-anchor="end" fill="#1e1e1e" stroke="#1e1e1e" stroke-width="0.18">PMN depletion</text>
<path d="M128.60 406.00H130.80" stroke="#747474" stroke-width="1.2" fill="none"/>
<path d="M169.55 406.00H173.45M171.50 404.05V407.95" stroke="#474747" stroke-width="0.95" fill="none"/>
<path d="M212.90 406.00H215.10" stroke="#747474" stroke-width="1.2" fill="none"/>
<text x="108.3" y="435.2" font-size="8.2" text-anchor="end" fill="#1e1e1e" stroke="#1e1e1e" stroke-width="0.18">34-1-2s + AF6-88.5.5.3</text>
<path d="M127.75 432.80H131.65M129.70 430.85V434.75" stroke="#474747" stroke-width="0.95" fill="none"/>
<path d="M169.55 432.80H173.45M171.50 430.85V434.75" stroke="#474747" stroke-width="0.95" fill="none"/>
<path d="M212.05 432.80H215.95M214.00 430.85V434.75" stroke="#474747" stroke-width="0.95" fill="none"/>
<text x="108.3" y="445.0" font-size="8.2" text-anchor="end" fill="#1e1e1e" stroke="#1e1e1e" stroke-width="0.18">Isotype Mouse IgG2a</text>
<path d="M128.60 442.60H130.80" stroke="#747474" stroke-width="1.2" fill="none"/>
<path d="M170.40 442.60H172.60" stroke="#747474" stroke-width="1.2" fill="none"/>
<path d="M212.90 442.60H215.10" stroke="#747474" stroke-width="1.2" fill="none"/>
<line x1="118.5" y1="449.5" x2="182.4" y2="449.5" stroke="#1e1e1e" stroke-width="1.2"/>
<line x1="118.5" y1="445.9" x2="118.5" y2="453.7" stroke="#1e1e1e" stroke-width="1.2"/>
<line x1="182.5" y1="445.9" x2="182.5" y2="453.7" stroke="#1e1e1e" stroke-width="1.2"/>
<text x="150.45" y="462.8" font-size="9.2" text-anchor="middle" font-weight="bold" fill="#1e1e1e">WT C57BL/6</text>
<line x1="188.9" y1="449.5" x2="238.7" y2="449.5" stroke="#1e1e1e" stroke-width="1.2"/>
<line x1="188.5" y1="445.9" x2="188.5" y2="453.7" stroke="#1e1e1e" stroke-width="1.2"/>
<line x1="238.5" y1="445.9" x2="238.5" y2="453.7" stroke="#1e1e1e" stroke-width="1.2"/>
<text x="213.8" y="462.8" font-size="9.2" text-anchor="middle" font-weight="bold" fill="#1e1e1e">gp91phox -/-</text>
<text x="281.3" y="262.1" font-size="12.5" text-anchor="start" font-weight="bold" fill="#111">C</text>
<line x1="375.5" y1="268.3" x2="375.5" y2="361.0" stroke="#1e1e1e" stroke-width="1.3"/>
<line x1="372.6" y1="270.5" x2="375.8" y2="270.5" stroke="#1e1e1e" stroke-width="1.0"/>
<text x="370.6" y="273.61" font-size="8.2" text-anchor="end" fill="#1e1e1e" stroke="#1e1e1e" stroke-width="0.18">350</text>
<line x1="372.6" y1="283.5" x2="375.8" y2="283.5" stroke="#1e1e1e" stroke-width="1.0"/>
<text x="370.6" y="286.48" font-size="8.2" text-anchor="end" fill="#1e1e1e" stroke="#1e1e1e" stroke-width="0.18">300</text>
<line x1="372.6" y1="296.5" x2="375.8" y2="296.5" stroke="#1e1e1e" stroke-width="1.0"/>
<text x="370.6" y="299.35" font-size="8.2" text-anchor="end" fill="#1e1e1e" stroke="#1e1e1e" stroke-width="0.18">250</text>
<line x1="372.6" y1="309.5" x2="375.8" y2="309.5" stroke="#1e1e1e" stroke-width="1.0"/>
<text x="370.6" y="312.22" font-size="8.2" text-anchor="end" fill="#1e1e1e" stroke="#1e1e1e" stroke-width="0.18">200</text>
<line x1="372.6" y1="322.5" x2="375.8" y2="322.5" stroke="#1e1e1e" stroke-width="1.0"/>
<text x="370.6" y="325.09" font-size="8.2" text-anchor="end" fill="#1e1e1e" stroke="#1e1e1e" stroke-width="0.18">150</text>
<line x1="372.6" y1="335.5" x2="375.8" y2="335.5" stroke="#1e1e1e" stroke-width="1.0"/>
<text x="370.6" y="337.96" font-size="8.2" text-anchor="end" fill="#1e1e1e" stroke="#1e1e1e" stroke-width="0.18">100</text>
<line x1="372.6" y1="348.5" x2="375.8" y2="348.5" stroke="#1e1e1e" stroke-width="1.0"/>
<text x="370.6" y="350.83" font-size="8.2" text-anchor="end" fill="#1e1e1e" stroke="#1e1e1e" stroke-width="0.18">50</text>
<line x1="372.6" y1="360.5" x2="375.8" y2="360.5" stroke="#1e1e1e" stroke-width="1.0"/>
<text x="370.6" y="363.7" font-size="8.2" text-anchor="end" fill="#1e1e1e" stroke="#1e1e1e" stroke-width="0.18">0</text>
<line x1="375.15" y1="361.5" x2="511.5" y2="361.5" stroke="#1e1e1e" stroke-width="1.3"/>
<line x1="400.5" y1="361.0" x2="400.5" y2="364.0" stroke="#1e1e1e" stroke-width="1.0"/>
<line x1="445.5" y1="361.0" x2="445.5" y2="364.0" stroke="#1e1e1e" stroke-width="1.0"/>
<line x1="490.5" y1="361.0" x2="490.5" y2="364.0" stroke="#1e1e1e" stroke-width="1.0"/>
<text transform="translate(349.4,314.0) rotate(-90)" font-size="9.7" text-anchor="middle" fill="#1e1e1e" stroke="#1e1e1e" stroke-width="0.25">MIP-2 (pg/ml)</text>
<path d="M399.5 265.4V259.5H445.5V265.4" fill="none" stroke="#1e1e1e" stroke-width="1.35"/>
<circle cx="422.55" cy="254.5" r="1.35" fill="#222"/>
<line x1="400.5" y1="321.9" x2="400.5" y2="356.5" stroke="#1e1e1e" stroke-width="1.2"/>
<line x1="394.0" y1="321.5" x2="407.2" y2="321.5" stroke="#1e1e1e" stroke-width="1.2"/>
<line x1="394.0" y1="356.5" x2="407.2" y2="356.5" stroke="#1e1e1e" stroke-width="1.2"/>
<line x1="386.7" y1="339.5" x2="414.5" y2="339.5" stroke="#1e1e1e" stroke-width="1.2"/>
<circle cx="400.7" cy="311.1" r="2.3" fill="#980a34" stroke="#55001a" stroke-width="0.7"/>
<circle cx="400.7" cy="335.4" r="2.3" fill="#980a34" stroke="#55001a" stroke-width="0.7"/>
<circle cx="400.4" cy="346" r="2.3" fill="#980a34" stroke="#55001a" stroke-width="0.7"/>
<circle cx="404.5" cy="349.6" r="2.3" fill="#980a34" stroke="#55001a" stroke-width="0.7"/>
<circle cx="397.2" cy="354.9" r="2.3" fill="#980a34" stroke="#55001a" stroke-width="0.7"/>
<g opacity="0.45">
<line x1="400.5" y1="321.9" x2="400.5" y2="356.5" stroke="#1e1e1e" stroke-width="1.2"/>
<line x1="394.0" y1="321.5" x2="407.2" y2="321.5" stroke="#1e1e1e" stroke-width="1.2"/>
<line x1="394.0" y1="356.5" x2="407.2" y2="356.5" stroke="#1e1e1e" stroke-width="1.2"/>
<line x1="386.7" y1="339.5" x2="414.5" y2="339.5" stroke="#1e1e1e" stroke-width="1.2"/>
</g>
<line x1="445.5" y1="275.1" x2="445.5" y2="315.5" stroke="#1e1e1e" stroke-width="1.2"/>
<line x1="439.1" y1="275.5" x2="452.3" y2="275.5" stroke="#1e1e1e" stroke-width="1.2"/>
<line x1="439.1" y1="315.5" x2="452.3" y2="315.5" stroke="#1e1e1e" stroke-width="1.2"/>
<line x1="431.8" y1="295.5" x2="459.6" y2="295.5" stroke="#1e1e1e" stroke-width="1.2"/>
<circle cx="445.8" cy="277.1" r="2.3" fill="#980a34" stroke="#55001a" stroke-width="0.7"/>
<circle cx="448.9" cy="280.75" r="2.3" fill="#980a34" stroke="#55001a" stroke-width="0.7"/>
<circle cx="442.1" cy="286.2" r="2.3" fill="#980a34" stroke="#55001a" stroke-width="0.7"/>
<circle cx="445.8" cy="307.8" r="2.3" fill="#980a34" stroke="#55001a" stroke-width="0.7"/>
<circle cx="445.8" cy="324.9" r="2.3" fill="#980a34" stroke="#55001a" stroke-width="0.7"/>
<g opacity="0.45">
<line x1="445.5" y1="275.1" x2="445.5" y2="315.5" stroke="#1e1e1e" stroke-width="1.2"/>
<line x1="439.1" y1="275.5" x2="452.3" y2="275.5" stroke="#1e1e1e" stroke-width="1.2"/>
<line x1="439.1" y1="315.5" x2="452.3" y2="315.5" stroke="#1e1e1e" stroke-width="1.2"/>
<line x1="431.8" y1="295.5" x2="459.6" y2="295.5" stroke="#1e1e1e" stroke-width="1.2"/>
</g>
<line x1="490.5" y1="287.1" x2="490.5" y2="332.9" stroke="#1e1e1e" stroke-width="1.2"/>
<line x1="484.1" y1="287.5" x2="497.3" y2="287.5" stroke="#1e1e1e" stroke-width="1.2"/>
<line x1="484.1" y1="332.5" x2="497.3" y2="332.5" stroke="#1e1e1e" stroke-width="1.2"/>
<line x1="476.8" y1="310.5" x2="504.6" y2="310.5" stroke="#1e1e1e" stroke-width="1.2"/>
<circle cx="490.7" cy="281.5" r="2.3" fill="#980a34" stroke="#55001a" stroke-width="0.7"/>
<circle cx="490.7" cy="290.9" r="2.3" fill="#980a34" stroke="#55001a" stroke-width="0.7"/>
<circle cx="486.9" cy="318.5" r="2.3" fill="#980a34" stroke="#55001a" stroke-width="0.7"/>
<circle cx="494.4" cy="325" r="2.3" fill="#980a34" stroke="#55001a" stroke-width="0.7"/>
<circle cx="490.7" cy="334.7" r="2.3" fill="#980a34" stroke="#55001a" stroke-width="0.7"/>
<g opacity="0.45">
<line x1="490.5" y1="287.1" x2="490.5" y2="332.9" stroke="#1e1e1e" stroke-width="1.2"/>
<line x1="484.1" y1="287.5" x2="497.3" y2="287.5" stroke="#1e1e1e" stroke-width="1.2"/>
<line x1="484.1" y1="332.5" x2="497.3" y2="332.5" stroke="#1e1e1e" stroke-width="1.2"/>
<line x1="476.8" y1="310.5" x2="504.6" y2="310.5" stroke="#1e1e1e" stroke-width="1.2"/>
</g>
<text x="378.1" y="378.9" font-size="8.2" text-anchor="end" fill="#1e1e1e" stroke="#1e1e1e" stroke-width="0.18">First injection:</text>
<line x1="327.52" y1="379.90" x2="378.10" y2="379.90" stroke="#1e1e1e" stroke-width="0.85"/>
<text x="378.1" y="425.2" font-size="8.2" text-anchor="end" fill="#1e1e1e" stroke="#1e1e1e" stroke-width="0.18">Second injection:</text>
<line x1="315.65" y1="426.20" x2="378.10" y2="426.20" stroke="#1e1e1e" stroke-width="0.85"/>
<text x="378.1" y="388.7" font-size="8.2" text-anchor="end" fill="#1e1e1e" stroke="#1e1e1e" stroke-width="0.18">Depletion of CD4</text>
<path d="M398.65 386.30H402.55M400.60 384.35V388.25" stroke="#474747" stroke-width="0.95" fill="none"/>
<path d="M443.75 386.30H447.65M445.70 384.35V388.25" stroke="#474747" stroke-width="0.95" fill="none"/>
<path d="M488.75 386.30H492.65M490.70 384.35V388.25" stroke="#474747" stroke-width="0.95" fill="none"/>
<text x="378.1" y="398.6" font-size="8.2" text-anchor="end" fill="#1e1e1e" stroke="#1e1e1e" stroke-width="0.18">Isotype Rat IgG2b</text>
<path d="M399.50 396.20H401.70" stroke="#747474" stroke-width="1.2" fill="none"/>
<path d="M444.60 396.20H446.80" stroke="#747474" stroke-width="1.2" fill="none"/>
<path d="M489.60 396.20H491.80" stroke="#747474" stroke-width="1.2" fill="none"/>
<text x="378.1" y="408.3" font-size="8.2" text-anchor="end" fill="#1e1e1e" stroke="#1e1e1e" stroke-width="0.18">PMN depletion</text>
<path d="M399.50 405.90H401.70" stroke="#747474" stroke-width="1.2" fill="none"/>
<path d="M443.75 405.90H447.65M445.70 403.95V407.85" stroke="#474747" stroke-width="0.95" fill="none"/>
<path d="M489.60 405.90H491.80" stroke="#747474" stroke-width="1.2" fill="none"/>
<text x="378.1" y="435.1" font-size="8.2" text-anchor="end" fill="#1e1e1e" stroke="#1e1e1e" stroke-width="0.18">34-1-2s + AF6-88.5.5.3</text>
<path d="M398.65 432.70H402.55M400.60 430.75V434.65" stroke="#474747" stroke-width="0.95" fill="none"/>
<path d="M443.75 432.70H447.65M445.70 430.75V434.65" stroke="#474747" stroke-width="0.95" fill="none"/>
<path d="M488.75 432.70H492.65M490.70 430.75V434.65" stroke="#474747" stroke-width="0.95" fill="none"/>
<text x="378.1" y="444.9" font-size="8.2" text-anchor="end" fill="#1e1e1e" stroke="#1e1e1e" stroke-width="0.18">Isotype Mouse IgG2a</text>
<path d="M399.50 442.50H401.70" stroke="#747474" stroke-width="1.2" fill="none"/>
<path d="M444.60 442.50H446.80" stroke="#747474" stroke-width="1.2" fill="none"/>
<path d="M489.60 442.50H491.80" stroke="#747474" stroke-width="1.2" fill="none"/>
<line x1="385.7" y1="449.5" x2="449.8" y2="449.5" stroke="#1e1e1e" stroke-width="1.2"/>
<line x1="385.5" y1="445.8" x2="385.5" y2="453.6" stroke="#1e1e1e" stroke-width="1.2"/>
<line x1="449.5" y1="445.8" x2="449.5" y2="453.6" stroke="#1e1e1e" stroke-width="1.2"/>
<text x="417.75" y="462.6" font-size="9.2" text-anchor="middle" font-weight="bold" fill="#1e1e1e">WT C57BL/6</text>
<line x1="459.4" y1="449.5" x2="509.5" y2="449.5" stroke="#1e1e1e" stroke-width="1.2"/>
<line x1="459.5" y1="445.8" x2="459.5" y2="453.6" stroke="#1e1e1e" stroke-width="1.2"/>
<line x1="509.5" y1="445.8" x2="509.5" y2="453.6" stroke="#1e1e1e" stroke-width="1.2"/>
<text x="484.45" y="462.6" font-size="9.2" text-anchor="middle" font-weight="bold" fill="#1e1e1e">gp91phox -/-</text>
<text x="8.8" y="492.3" font-size="12.5" text-anchor="start" font-weight="bold" fill="#111">D</text>
<line x1="107.5" y1="502.0" x2="107.5" y2="591.3" stroke="#1e1e1e" stroke-width="1.3"/>
<line x1="104.4" y1="504.5" x2="107.6" y2="504.5" stroke="#1e1e1e" stroke-width="1.0"/>
<text x="100.6" y="506.9" font-size="8.2" text-anchor="end" fill="#1e1e1e" stroke="#1e1e1e" stroke-width="0.18">100</text>
<line x1="104.4" y1="512.5" x2="107.6" y2="512.5" stroke="#1e1e1e" stroke-width="1.0"/>
<text x="100.6" y="515.62" font-size="8.2" text-anchor="end" fill="#1e1e1e" stroke="#1e1e1e" stroke-width="0.18">90</text>
<line x1="104.4" y1="521.5" x2="107.6" y2="521.5" stroke="#1e1e1e" stroke-width="1.0"/>
<text x="100.6" y="524.33" font-size="8.2" text-anchor="end" fill="#1e1e1e" stroke="#1e1e1e" stroke-width="0.18">80</text>
<line x1="104.4" y1="530.5" x2="107.6" y2="530.5" stroke="#1e1e1e" stroke-width="1.0"/>
<text x="100.6" y="533.04" font-size="8.2" text-anchor="end" fill="#1e1e1e" stroke="#1e1e1e" stroke-width="0.18">70</text>
<line x1="104.4" y1="538.5" x2="107.6" y2="538.5" stroke="#1e1e1e" stroke-width="1.0"/>
<text x="100.6" y="541.76" font-size="8.2" text-anchor="end" fill="#1e1e1e" stroke="#1e1e1e" stroke-width="0.18">60</text>
<line x1="104.4" y1="547.5" x2="107.6" y2="547.5" stroke="#1e1e1e" stroke-width="1.0"/>
<text x="100.6" y="550.47" font-size="8.2" text-anchor="end" fill="#1e1e1e" stroke="#1e1e1e" stroke-width="0.18">50</text>
<line x1="104.4" y1="556.5" x2="107.6" y2="556.5" stroke="#1e1e1e" stroke-width="1.0"/>
<text x="100.6" y="559.19" font-size="8.2" text-anchor="end" fill="#1e1e1e" stroke="#1e1e1e" stroke-width="0.18">40</text>
<line x1="104.4" y1="565.5" x2="107.6" y2="565.5" stroke="#1e1e1e" stroke-width="1.0"/>
<text x="100.6" y="567.9" font-size="8.2" text-anchor="end" fill="#1e1e1e" stroke="#1e1e1e" stroke-width="0.18">30</text>
<line x1="104.4" y1="573.5" x2="107.6" y2="573.5" stroke="#1e1e1e" stroke-width="1.0"/>
<text x="100.6" y="576.62" font-size="8.2" text-anchor="end" fill="#1e1e1e" stroke="#1e1e1e" stroke-width="0.18">20</text>
<line x1="104.4" y1="582.5" x2="107.6" y2="582.5" stroke="#1e1e1e" stroke-width="1.0"/>
<text x="100.6" y="585.33" font-size="8.2" text-anchor="end" fill="#1e1e1e" stroke="#1e1e1e" stroke-width="0.18">10</text>
<line x1="104.4" y1="591.5" x2="107.6" y2="591.5" stroke="#1e1e1e" stroke-width="1.0"/>
<text x="100.6" y="594.05" font-size="8.2" text-anchor="end" fill="#1e1e1e" stroke="#1e1e1e" stroke-width="0.18">0</text>
<line x1="106.95" y1="591.5" x2="237.0" y2="591.5" stroke="#1e1e1e" stroke-width="1.3"/>
<line x1="129.5" y1="591.3" x2="129.5" y2="594.3" stroke="#1e1e1e" stroke-width="1.0"/>
<line x1="172.5" y1="591.3" x2="172.5" y2="594.3" stroke="#1e1e1e" stroke-width="1.0"/>
<line x1="216.5" y1="591.3" x2="216.5" y2="594.3" stroke="#1e1e1e" stroke-width="1.0"/>
<text transform="translate(66.9,548.35) rotate(-90)" font-size="9.3" text-anchor="middle" fill="#1e1e1e" stroke="#1e1e1e" stroke-width="0.25">Pulmonary</text>
<text transform="translate(79.4,547.15) rotate(-90)" font-size="9.45" text-anchor="middle" fill="#1e1e1e" stroke="#1e1e1e" stroke-width="0.25">neutrophils (%)</text>
<path d="M128.5 532.3V526.5H172.5V532.3" fill="none" stroke="#1e1e1e" stroke-width="1.35"/>
<circle cx="144.55" cy="521.4" r="1.35" fill="#222"/>
<circle cx="148.65" cy="521.4" r="1.35" fill="#222"/>
<circle cx="152.75" cy="521.4" r="1.35" fill="#222"/>
<circle cx="156.85" cy="521.4" r="1.35" fill="#222"/>
<path d="M172.5 514.3V508.5H216.5V514.3" fill="none" stroke="#1e1e1e" stroke-width="1.35"/>
<circle cx="188.25" cy="503.4" r="1.35" fill="#222"/>
<circle cx="192.35" cy="503.4" r="1.35" fill="#222"/>
<circle cx="196.45" cy="503.4" r="1.35" fill="#222"/>
<circle cx="200.55" cy="503.4" r="1.35" fill="#222"/>
<line x1="129.5" y1="541.4" x2="129.5" y2="559.6" stroke="#1e1e1e" stroke-width="1.2"/>
<line x1="122.6" y1="541.5" x2="135.8" y2="541.5" stroke="#1e1e1e" stroke-width="1.2"/>
<line x1="122.6" y1="559.5" x2="135.8" y2="559.5" stroke="#1e1e1e" stroke-width="1.2"/>
<line x1="115.3" y1="551.5" x2="143.1" y2="551.5" stroke="#1e1e1e" stroke-width="1.2"/>
<circle cx="125.5" cy="542.1" r="2.3" fill="#980a34" stroke="#55001a" stroke-width="0.7"/>
<circle cx="133.2" cy="542.1" r="2.3" fill="#980a34" stroke="#55001a" stroke-width="0.7"/>
<circle cx="129.4" cy="550.7" r="2.3" fill="#980a34" stroke="#55001a" stroke-width="0.7"/>
<circle cx="133.2" cy="558.3" r="2.3" fill="#980a34" stroke="#55001a" stroke-width="0.7"/>
<circle cx="125.8" cy="561" r="2.3" fill="#980a34" stroke="#55001a" stroke-width="0.7"/>
<g opacity="0.45">
<line x1="129.5" y1="541.4" x2="129.5" y2="559.6" stroke="#1e1e1e" stroke-width="1.2"/>
<line x1="122.6" y1="541.5" x2="135.8" y2="541.5" stroke="#1e1e1e" stroke-width="1.2"/>
<line x1="122.6" y1="559.5" x2="135.8" y2="559.5" stroke="#1e1e1e" stroke-width="1.2"/>
<line x1="115.3" y1="551.5" x2="143.1" y2="551.5" stroke="#1e1e1e" stroke-width="1.2"/>
</g>
<line x1="172.5" y1="572.4" x2="172.5" y2="582.5" stroke="#1e1e1e" stroke-width="1.2"/>
<line x1="166.3" y1="572.5" x2="179.5" y2="572.5" stroke="#1e1e1e" stroke-width="1.2"/>
<line x1="166.3" y1="582.5" x2="179.5" y2="582.5" stroke="#1e1e1e" stroke-width="1.2"/>
<line x1="159.0" y1="577.5" x2="186.8" y2="577.5" stroke="#1e1e1e" stroke-width="1.2"/>
<circle cx="172.8" cy="569" r="2.3" fill="#980a34" stroke="#55001a" stroke-width="0.7"/>
<circle cx="163.1" cy="579.1" r="2.3" fill="#980a34" stroke="#55001a" stroke-width="0.7"/>
<circle cx="183.3" cy="577.8" r="2.3" fill="#980a34" stroke="#55001a" stroke-width="0.7"/>
<circle cx="169.5" cy="580.5" r="2.3" fill="#980a34" stroke="#55001a" stroke-width="0.7"/>
<circle cx="176.5" cy="580.5" r="2.3" fill="#980a34" stroke="#55001a" stroke-width="0.7"/>
<g opacity="0.45">
<line x1="172.5" y1="572.4" x2="172.5" y2="582.5" stroke="#1e1e1e" stroke-width="1.2"/>
<line x1="166.3" y1="572.5" x2="179.5" y2="572.5" stroke="#1e1e1e" stroke-width="1.2"/>
<line x1="166.3" y1="582.5" x2="179.5" y2="582.5" stroke="#1e1e1e" stroke-width="1.2"/>
<line x1="159.0" y1="577.5" x2="186.8" y2="577.5" stroke="#1e1e1e" stroke-width="1.2"/>
</g>
<line x1="216.5" y1="535.5" x2="216.5" y2="547.0" stroke="#1e1e1e" stroke-width="1.2"/>
<line x1="209.9" y1="535.5" x2="223.1" y2="535.5" stroke="#1e1e1e" stroke-width="1.2"/>
<line x1="209.9" y1="547.5" x2="223.1" y2="547.5" stroke="#1e1e1e" stroke-width="1.2"/>
<line x1="202.6" y1="541.5" x2="230.4" y2="541.5" stroke="#1e1e1e" stroke-width="1.2"/>
<circle cx="216.9" cy="532.2" r="2.3" fill="#980a34" stroke="#55001a" stroke-width="0.7"/>
<circle cx="206.8" cy="542.3" r="2.3" fill="#980a34" stroke="#55001a" stroke-width="0.7"/>
<circle cx="219.6" cy="543.2" r="2.3" fill="#980a34" stroke="#55001a" stroke-width="0.7"/>
<circle cx="226.5" cy="542.1" r="2.3" fill="#980a34" stroke="#55001a" stroke-width="0.7"/>
<circle cx="213" cy="547.5" r="2.3" fill="#980a34" stroke="#55001a" stroke-width="0.7"/>
<g opacity="0.45">
<line x1="216.5" y1="535.5" x2="216.5" y2="547.0" stroke="#1e1e1e" stroke-width="1.2"/>
<line x1="209.9" y1="535.5" x2="223.1" y2="535.5" stroke="#1e1e1e" stroke-width="1.2"/>
<line x1="209.9" y1="547.5" x2="223.1" y2="547.5" stroke="#1e1e1e" stroke-width="1.2"/>
<line x1="202.6" y1="541.5" x2="230.4" y2="541.5" stroke="#1e1e1e" stroke-width="1.2"/>
</g>
<text x="108.3" y="608.7" font-size="8.2" text-anchor="end" fill="#1e1e1e" stroke="#1e1e1e" stroke-width="0.18">First injection:</text>
<line x1="57.72" y1="609.70" x2="108.30" y2="609.70" stroke="#1e1e1e" stroke-width="0.85"/>
<text x="108.3" y="655.0" font-size="8.2" text-anchor="end" fill="#1e1e1e" stroke="#1e1e1e" stroke-width="0.18">Second injection:</text>
<line x1="45.85" y1="656.00" x2="108.30" y2="656.00" stroke="#1e1e1e" stroke-width="0.85"/>
<text x="108.3" y="618.5" font-size="8.2" text-anchor="end" fill="#1e1e1e" stroke="#1e1e1e" stroke-width="0.18">Depletion of CD4</text>
<path d="M127.25 616.10H131.15M129.20 614.15V618.05" stroke="#474747" stroke-width="0.95" fill="none"/>
<path d="M170.95 616.10H174.85M172.90 614.15V618.05" stroke="#474747" stroke-width="0.95" fill="none"/>
<path d="M214.55 616.10H218.45M216.50 614.15V618.05" stroke="#474747" stroke-width="0.95" fill="none"/>
<text x="108.3" y="628.4" font-size="8.2" text-anchor="end" fill="#1e1e1e" stroke="#1e1e1e" stroke-width="0.18">Isotype Rat IgG2b</text>
<path d="M128.10 626.00H130.30" stroke="#747474" stroke-width="1.2" fill="none"/>
<path d="M171.80 626.00H174.00" stroke="#747474" stroke-width="1.2" fill="none"/>
<path d="M215.40 626.00H217.60" stroke="#747474" stroke-width="1.2" fill="none"/>
<text x="108.3" y="638.1" font-size="8.2" text-anchor="end" fill="#1e1e1e" stroke="#1e1e1e" stroke-width="0.18">PMN depletion</text>
<path d="M128.10 635.70H130.30" stroke="#747474" stroke-width="1.2" fill="none"/>
<path d="M170.95 635.70H174.85M172.90 633.75V637.65" stroke="#474747" stroke-width="0.95" fill="none"/>
<path d="M215.40 635.70H217.60" stroke="#747474" stroke-width="1.2" fill="none"/>
<text x="108.3" y="664.9" font-size="8.2" text-anchor="end" fill="#1e1e1e" stroke="#1e1e1e" stroke-width="0.18">34-1-2s + AF6-88.5.5.3</text>
<path d="M127.25 662.50H131.15M129.20 660.55V664.45" stroke="#474747" stroke-width="0.95" fill="none"/>
<path d="M170.95 662.50H174.85M172.90 660.55V664.45" stroke="#474747" stroke-width="0.95" fill="none"/>
<path d="M214.55 662.50H218.45M216.50 660.55V664.45" stroke="#474747" stroke-width="0.95" fill="none"/>
<text x="108.3" y="674.7" font-size="8.2" text-anchor="end" fill="#1e1e1e" stroke="#1e1e1e" stroke-width="0.18">Isotype Mouse IgG2a</text>
<path d="M128.10 672.30H130.30" stroke="#747474" stroke-width="1.2" fill="none"/>
<path d="M171.80 672.30H174.00" stroke="#747474" stroke-width="1.2" fill="none"/>
<path d="M215.40 672.30H217.60" stroke="#747474" stroke-width="1.2" fill="none"/>
<line x1="115.8" y1="680.5" x2="182.3" y2="680.5" stroke="#1e1e1e" stroke-width="1.2"/>
<line x1="115.5" y1="676.4" x2="115.5" y2="684.2" stroke="#1e1e1e" stroke-width="1.2"/>
<line x1="182.5" y1="676.4" x2="182.5" y2="684.2" stroke="#1e1e1e" stroke-width="1.2"/>
<text x="149.05" y="692.7" font-size="9.2" text-anchor="middle" font-weight="bold" fill="#1e1e1e">WT C57BL/6</text>
<line x1="191.5" y1="680.5" x2="243.4" y2="680.5" stroke="#1e1e1e" stroke-width="1.2"/>
<line x1="191.5" y1="676.4" x2="191.5" y2="684.2" stroke="#1e1e1e" stroke-width="1.2"/>
<line x1="243.5" y1="676.4" x2="243.5" y2="684.2" stroke="#1e1e1e" stroke-width="1.2"/>
<text x="217.45" y="692.7" font-size="9.2" text-anchor="middle" font-weight="bold" fill="#1e1e1e">gp91phox -/-</text>
<text x="281.0" y="491.6" font-size="12.5" text-anchor="start" font-weight="bold" fill="#111">E</text>
<line x1="376.5" y1="502.8" x2="376.5" y2="590.8" stroke="#1e1e1e" stroke-width="1.3"/>
<line x1="373.5" y1="505.5" x2="376.7" y2="505.5" stroke="#1e1e1e" stroke-width="1.0"/>
<text x="370.7" y="507.82" font-size="8.2" text-anchor="end" fill="#1e1e1e" stroke="#1e1e1e" stroke-width="0.18">1.4</text>
<line x1="373.5" y1="517.5" x2="376.7" y2="517.5" stroke="#1e1e1e" stroke-width="1.0"/>
<text x="370.7" y="519.96" font-size="8.2" text-anchor="end" fill="#1e1e1e" stroke="#1e1e1e" stroke-width="0.18">1.2</text>
<line x1="373.5" y1="529.5" x2="376.7" y2="529.5" stroke="#1e1e1e" stroke-width="1.0"/>
<text x="370.7" y="532.1" font-size="8.2" text-anchor="end" fill="#1e1e1e" stroke="#1e1e1e" stroke-width="0.18">1.0</text>
<line x1="373.5" y1="541.5" x2="376.7" y2="541.5" stroke="#1e1e1e" stroke-width="1.0"/>
<text x="370.7" y="544.24" font-size="8.2" text-anchor="end" fill="#1e1e1e" stroke="#1e1e1e" stroke-width="0.18">0.8</text>
<line x1="373.5" y1="553.5" x2="376.7" y2="553.5" stroke="#1e1e1e" stroke-width="1.0"/>
<text x="370.7" y="556.38" font-size="8.2" text-anchor="end" fill="#1e1e1e" stroke="#1e1e1e" stroke-width="0.18">0.6</text>
<line x1="373.5" y1="565.5" x2="376.7" y2="565.5" stroke="#1e1e1e" stroke-width="1.0"/>
<text x="370.7" y="568.52" font-size="8.2" text-anchor="end" fill="#1e1e1e" stroke="#1e1e1e" stroke-width="0.18">0.4</text>
<line x1="373.5" y1="577.5" x2="376.7" y2="577.5" stroke="#1e1e1e" stroke-width="1.0"/>
<text x="370.7" y="580.66" font-size="8.2" text-anchor="end" fill="#1e1e1e" stroke="#1e1e1e" stroke-width="0.18">0.2</text>
<line x1="373.5" y1="590.5" x2="376.7" y2="590.5" stroke="#1e1e1e" stroke-width="1.0"/>
<text x="370.7" y="592.8" font-size="8.2" text-anchor="end" fill="#1e1e1e" stroke="#1e1e1e" stroke-width="0.18">0.0</text>
<line x1="376.05" y1="590.5" x2="504.8" y2="590.5" stroke="#1e1e1e" stroke-width="1.3"/>
<line x1="398.5" y1="590.8" x2="398.5" y2="593.8" stroke="#1e1e1e" stroke-width="1.0"/>
<line x1="441.5" y1="590.8" x2="441.5" y2="593.8" stroke="#1e1e1e" stroke-width="1.0"/>
<line x1="484.5" y1="590.8" x2="484.5" y2="593.8" stroke="#1e1e1e" stroke-width="1.0"/>
<text transform="translate(351.3,546.25) rotate(-90)" font-size="9.2" text-anchor="middle" fill="#1e1e1e" stroke="#1e1e1e" stroke-width="0.25">Lung mUnits MPO/mg</text>
<path d="M398.5 509.5V503.5H441.5V509.5" fill="none" stroke="#1e1e1e" stroke-width="1.35"/>
<circle cx="419.90" cy="498.6" r="1.35" fill="#222"/>
<path d="M440.5 494.1V488.5H483.5V494.1" fill="none" stroke="#1e1e1e" stroke-width="1.35"/>
<circle cx="459.95" cy="483.2" r="1.35" fill="#222"/>
<circle cx="464.05" cy="483.2" r="1.35" fill="#222"/>
<line x1="398.5" y1="526.3" x2="398.5" y2="544.5" stroke="#1e1e1e" stroke-width="1.2"/>
<line x1="391.9" y1="526.5" x2="405.1" y2="526.5" stroke="#1e1e1e" stroke-width="1.2"/>
<line x1="391.9" y1="544.5" x2="405.1" y2="544.5" stroke="#1e1e1e" stroke-width="1.2"/>
<line x1="384.6" y1="535.5" x2="412.4" y2="535.5" stroke="#1e1e1e" stroke-width="1.2"/>
<circle cx="398.5" cy="521.3" r="2.3" fill="#980a34" stroke="#55001a" stroke-width="0.7"/>
<circle cx="398.5" cy="532.1" r="2.3" fill="#980a34" stroke="#55001a" stroke-width="0.7"/>
<circle cx="392.1" cy="538.7" r="2.3" fill="#980a34" stroke="#55001a" stroke-width="0.7"/>
<circle cx="405" cy="540.1" r="2.3" fill="#980a34" stroke="#55001a" stroke-width="0.7"/>
<circle cx="398.5" cy="545.7" r="2.3" fill="#980a34" stroke="#55001a" stroke-width="0.7"/>
<g opacity="0.45">
<line x1="398.5" y1="526.3" x2="398.5" y2="544.5" stroke="#1e1e1e" stroke-width="1.2"/>
<line x1="391.9" y1="526.5" x2="405.1" y2="526.5" stroke="#1e1e1e" stroke-width="1.2"/>
<line x1="391.9" y1="544.5" x2="405.1" y2="544.5" stroke="#1e1e1e" stroke-width="1.2"/>
<line x1="384.6" y1="535.5" x2="412.4" y2="535.5" stroke="#1e1e1e" stroke-width="1.2"/>
</g>
<line x1="441.5" y1="545.4" x2="441.5" y2="557.2" stroke="#1e1e1e" stroke-width="1.2"/>
<line x1="434.5" y1="545.5" x2="447.7" y2="545.5" stroke="#1e1e1e" stroke-width="1.2"/>
<line x1="434.5" y1="557.5" x2="447.7" y2="557.5" stroke="#1e1e1e" stroke-width="1.2"/>
<line x1="427.2" y1="551.5" x2="455.0" y2="551.5" stroke="#1e1e1e" stroke-width="1.2"/>
<circle cx="447.9" cy="544" r="2.3" fill="#980a34" stroke="#55001a" stroke-width="0.7"/>
<circle cx="434.7" cy="548.9" r="2.3" fill="#980a34" stroke="#55001a" stroke-width="0.7"/>
<circle cx="441.3" cy="549.2" r="2.3" fill="#980a34" stroke="#55001a" stroke-width="0.7"/>
<circle cx="444.4" cy="555.8" r="2.3" fill="#980a34" stroke="#55001a" stroke-width="0.7"/>
<circle cx="438.2" cy="558.5" r="2.3" fill="#980a34" stroke="#55001a" stroke-width="0.7"/>
<g opacity="0.45">
<line x1="441.5" y1="545.4" x2="441.5" y2="557.2" stroke="#1e1e1e" stroke-width="1.2"/>
<line x1="434.5" y1="545.5" x2="447.7" y2="545.5" stroke="#1e1e1e" stroke-width="1.2"/>
<line x1="434.5" y1="557.5" x2="447.7" y2="557.5" stroke="#1e1e1e" stroke-width="1.2"/>
<line x1="427.2" y1="551.5" x2="455.0" y2="551.5" stroke="#1e1e1e" stroke-width="1.2"/>
</g>
<line x1="484.5" y1="519.0" x2="484.5" y2="538.7" stroke="#1e1e1e" stroke-width="1.2"/>
<line x1="477.4" y1="519.5" x2="490.6" y2="519.5" stroke="#1e1e1e" stroke-width="1.2"/>
<line x1="477.4" y1="538.5" x2="490.6" y2="538.5" stroke="#1e1e1e" stroke-width="1.2"/>
<line x1="470.1" y1="528.5" x2="497.9" y2="528.5" stroke="#1e1e1e" stroke-width="1.2"/>
<circle cx="484.1" cy="517.6" r="2.3" fill="#980a34" stroke="#55001a" stroke-width="0.7"/>
<circle cx="480.9" cy="521.8" r="2.3" fill="#980a34" stroke="#55001a" stroke-width="0.7"/>
<circle cx="487.6" cy="525.6" r="2.3" fill="#980a34" stroke="#55001a" stroke-width="0.7"/>
<circle cx="487.5" cy="535.6" r="2.3" fill="#980a34" stroke="#55001a" stroke-width="0.7"/>
<circle cx="481.2" cy="542.2" r="2.3" fill="#980a34" stroke="#55001a" stroke-width="0.7"/>
<g opacity="0.45">
<line x1="484.5" y1="519.0" x2="484.5" y2="538.7" stroke="#1e1e1e" stroke-width="1.2"/>
<line x1="477.4" y1="519.5" x2="490.6" y2="519.5" stroke="#1e1e1e" stroke-width="1.2"/>
<line x1="477.4" y1="538.5" x2="490.6" y2="538.5" stroke="#1e1e1e" stroke-width="1.2"/>
<line x1="470.1" y1="528.5" x2="497.9" y2="528.5" stroke="#1e1e1e" stroke-width="1.2"/>
</g>
<text x="377.7" y="608.3" font-size="8.2" text-anchor="end" fill="#1e1e1e" stroke="#1e1e1e" stroke-width="0.18">First injection:</text>
<line x1="327.12" y1="609.30" x2="377.70" y2="609.30" stroke="#1e1e1e" stroke-width="0.85"/>
<text x="377.7" y="654.6" font-size="8.2" text-anchor="end" fill="#1e1e1e" stroke="#1e1e1e" stroke-width="0.18">Second injection:</text>
<line x1="315.25" y1="655.60" x2="377.70" y2="655.60" stroke="#1e1e1e" stroke-width="0.85"/>
<text x="377.7" y="618.1" font-size="8.2" text-anchor="end" fill="#1e1e1e" stroke="#1e1e1e" stroke-width="0.18">Depletion of CD4</text>
<path d="M396.55 615.70H400.45M398.50 613.75V617.65" stroke="#474747" stroke-width="0.95" fill="none"/>
<path d="M439.15 615.70H443.05M441.10 613.75V617.65" stroke="#474747" stroke-width="0.95" fill="none"/>
<path d="M482.05 615.70H485.95M484.00 613.75V617.65" stroke="#474747" stroke-width="0.95" fill="none"/>
<text x="377.7" y="628.0" font-size="8.2" text-anchor="end" fill="#1e1e1e" stroke="#1e1e1e" stroke-width="0.18">Isotype Rat IgG2b</text>
<path d="M397.40 625.60H399.60" stroke="#747474" stroke-width="1.2" fill="none"/>
<path d="M440.00 625.60H442.20" stroke="#747474" stroke-width="1.2" fill="none"/>
<path d="M482.90 625.60H485.10" stroke="#747474" stroke-width="1.2" fill="none"/>
<text x="377.7" y="637.7" font-size="8.2" text-anchor="end" fill="#1e1e1e" stroke="#1e1e1e" stroke-width="0.18">PMN depletion</text>
<path d="M397.40 635.30H399.60" stroke="#747474" stroke-width="1.2" fill="none"/>
<path d="M439.15 635.30H443.05M441.10 633.35V637.25" stroke="#474747" stroke-width="0.95" fill="none"/>
<path d="M482.90 635.30H485.10" stroke="#747474" stroke-width="1.2" fill="none"/>
<text x="377.7" y="664.5" font-size="8.2" text-anchor="end" fill="#1e1e1e" stroke="#1e1e1e" stroke-width="0.18">34-1-2s + AF6-88.5.5.3</text>
<path d="M396.55 662.10H400.45M398.50 660.15V664.05" stroke="#474747" stroke-width="0.95" fill="none"/>
<path d="M439.15 662.10H443.05M441.10 660.15V664.05" stroke="#474747" stroke-width="0.95" fill="none"/>
<path d="M482.05 662.10H485.95M484.00 660.15V664.05" stroke="#474747" stroke-width="0.95" fill="none"/>
<text x="377.7" y="674.3" font-size="8.2" text-anchor="end" fill="#1e1e1e" stroke="#1e1e1e" stroke-width="0.18">Isotype Mouse IgG2a</text>
<path d="M397.40 671.90H399.60" stroke="#747474" stroke-width="1.2" fill="none"/>
<path d="M440.00 671.90H442.20" stroke="#747474" stroke-width="1.2" fill="none"/>
<path d="M482.90 671.90H485.10" stroke="#747474" stroke-width="1.2" fill="none"/>
<line x1="384.7" y1="679.5" x2="449.0" y2="679.5" stroke="#1e1e1e" stroke-width="1.2"/>
<line x1="384.5" y1="675.5" x2="384.5" y2="683.3" stroke="#1e1e1e" stroke-width="1.2"/>
<line x1="449.5" y1="675.5" x2="449.5" y2="683.3" stroke="#1e1e1e" stroke-width="1.2"/>
<text x="416.85" y="692.4" font-size="9.2" text-anchor="middle" font-weight="bold" fill="#1e1e1e">WT C57BL/6</text>
<line x1="458.9" y1="679.5" x2="509.3" y2="679.5" stroke="#1e1e1e" stroke-width="1.2"/>
<line x1="458.5" y1="675.5" x2="458.5" y2="683.3" stroke="#1e1e1e" stroke-width="1.2"/>
<line x1="509.5" y1="675.5" x2="509.5" y2="683.3" stroke="#1e1e1e" stroke-width="1.2"/>
<text x="484.1" y="692.4" font-size="9.2" text-anchor="middle" font-weight="bold" fill="#1e1e1e">gp91phox -/-</text>
<rect x="0" y="0" width="520" height="1.5" fill="#000"/>
<rect x="0" y="0" width="1.5" height="703" fill="#000"/>
<rect x="517.8" y="0" width="2.2" height="703" fill="#000"/>
<rect x="0" y="701.3" width="520" height="1.7" fill="#000"/>
</svg>
</body></html>
